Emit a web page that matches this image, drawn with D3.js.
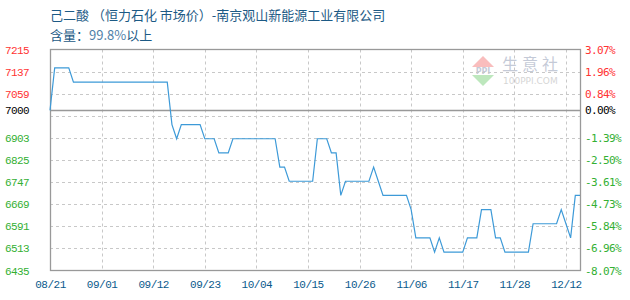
<!DOCTYPE html>
<html>
<head>
<meta charset="utf-8">
<script src="https://cdn.jsdelivr.net/npm/d3@7"></script>
<style>
  body { margin: 0; background: #fff; }
  svg { display: block; }
</style>
</head>
<body>
<svg width="630" height="300"></svg>
<script>
  const dateLabels = ['08/21', '09/01', '09/12', '09/23', '10/04', '10/15', '10/26', '11/06', '11/17', '11/28', '12/12']
  const labelIdx = [0, 11, 22, 33, 44, 55, 66, 77, 88, 99, 110]
  const priceTicks = [7215, 7137, 7059, 6981, 6903, 6825, 6747, 6669, 6591, 6513, 6435]
  const basePrice = 7000

  // one value per day shown
  const prices = [
    7000, 7150, 7150, 7150, 7150, 7100, 7100, 7100, 7100, 7100,
    7100, 7100, 7100, 7100, 7100, 7100, 7100, 7100, 7100, 7100,
    7100, 7100, 7100, 7100, 7100, 7100, 6950, 6900, 6950, 6950,
    6950, 6950, 6950, 6900, 6900, 6900, 6850, 6850, 6850, 6900,
    6900, 6900, 6900, 6900, 6900, 6900, 6900, 6900, 6900, 6800,
    6800, 6750, 6750, 6750, 6750, 6750, 6750, 6900, 6900, 6900,
    6850, 6850, 6700, 6750, 6750, 6750, 6750, 6750, 6750, 6800,
    6750, 6700, 6700, 6700, 6700, 6700, 6700, 6650, 6550, 6550,
    6550, 6550, 6500, 6550, 6500, 6500, 6500, 6500, 6500, 6550,
    6550, 6550, 6650, 6650, 6650, 6550, 6550, 6500, 6500, 6500,
    6500, 6500, 6500, 6600, 6600, 6600, 6600, 6600, 6600, 6650,
    6600, 6550, 6700, 6700
  ]

  const plotL = 50, plotR = 580, plotT = 49.5, plotB = 270.5
  const svg = d3.select('svg')

  const x = d3.scaleLinear().domain([0, prices.length - 1]).range([plotL, plotR])
  const y = d3.scaleLinear().domain([6435, 7215]).range([plotB, plotT])

  const upColor = '#ff3333'
  const downColor = '#33b033'
  function tickColor(v){
    if(v > basePrice) return upColor
    if(v < basePrice) return downColor
    return '#000'
  }

  // title
  svg.append('text')
    .attr('x', 50).attr('y', 20)
    .style('font', '13px "Noto Sans CJK SC", sans-serif')
    .style('fill', '#1c5a85')
    .text('己二酸 （恒力石化 市场价）-南京观山新能源工业有限公司')
  const sub = svg.append('text')
    .attr('x', 50).attr('y', 40)
    .style('font', '13px "Noto Sans CJK SC", sans-serif')
    .style('fill', '#1c5a85')
  sub.append('tspan').text('含量：')
  sub.append('tspan').style('fill', '#4f7fa8').text('99.8%')
  sub.append('tspan').text('以上')

  // watermark
  const wm = svg.append('g').attr('opacity', 0.35)
  wm.append('path')
    .attr('d', 'M483,56 L472,67 L494,67 Z')
    .style('fill', '#ee4444')
  wm.append('path')
    .attr('d', 'M472,75 L494,75 L483,86 Z')
    .style('fill', '#44bb44')
  wm.append('text')
    .attr('x', 483).attr('y', 74).attr('text-anchor', 'middle')
    .style('font', 'bold 8px "DejaVu Sans", sans-serif')
    .style('fill', '#5a6a90')
    .text('PPI')
  wm.append('text')
    .attr('x', 502).attr('y', 70)
    .style('font', '16px "Noto Sans CJK SC", sans-serif')
    .style('letter-spacing', '4px')
    .style('fill', '#5a6a90')
    .text('生意社')
  wm.append('text')
    .attr('x', 503).attr('y', 84)
    .style('font', '9px "DejaVu Sans", sans-serif')
    .style('fill', '#888')
    .text('100PPI.COM')

  // grid
  svg.append('g')
    .selectAll('line')
    .data(priceTicks.slice(1, -1))
    .join('line')
      .attr('x1', plotL).attr('x2', plotR)
      .attr('y1', d => Math.round(y(d)) + 0.5)
      .attr('y2', d => Math.round(y(d)) + 0.5)
      .style('stroke', '#c8c8c8')
      .style('stroke-dasharray', '3,3')
  svg.append('g')
    .selectAll('line')
    .data(labelIdx.slice(1))
    .join('line')
      .attr('x1', d => Math.round(x(d)) + 0.5)
      .attr('x2', d => Math.round(x(d)) + 0.5)
      .attr('y1', plotT).attr('y2', plotB)
      .style('stroke', '#c8c8c8')
      .style('stroke-dasharray', '3,3')

  // frame + base line
  svg.append('rect')
    .attr('x', plotL + 0.5).attr('y', plotT)
    .attr('width', plotR - plotL).attr('height', plotB - plotT)
    .style('fill', 'none')
    .style('stroke', '#999')
    .style('stroke-width', 1.3)
  svg.append('line')
    .attr('x1', plotL).attr('x2', plotR)
    .attr('y1', Math.round(y(basePrice)) + 0.5)
    .attr('y2', Math.round(y(basePrice)) + 0.5)
    .style('stroke', '#999')
    .style('stroke-width', 1.3)

  // left axis
  const leftTicks = priceTicks.filter(d => d !== 6981).concat([basePrice])
  const yAxisL = d3.axisLeft(y).tickValues(leftTicks).tickSize(0).tickPadding(0).tickFormat(d3.format('d'))
  const gl = svg.append('g').attr('transform', 'translate(29,0)').call(yAxisL)
  gl.select('.domain').remove()
  gl.selectAll('text')
    .style('font', '11px "Liberation Mono", monospace')
    .style('letter-spacing', '-0.6px')
    .style('fill', d => tickColor(d))

  // right axis (percent change against base)
  const pctFmt = d => ((d - basePrice) / basePrice * 100).toFixed(2) + '%'
  const yAxisR = d3.axisRight(y).tickValues(leftTicks).tickSize(0).tickPadding(0).tickFormat(pctFmt)
  const gr = svg.append('g').attr('transform', 'translate(585,0)').call(yAxisR)
  gr.select('.domain').remove()
  gr.selectAll('text')
    .style('font', '11px "DejaVu Sans Mono", monospace')
    .style('letter-spacing', '-0.6px')
    .style('fill', d => tickColor(d))

  // bottom axis
  const xAxis = d3.axisBottom(x).tickValues(labelIdx).tickSize(0).tickPadding(0)
    .tickFormat((d, i) => dateLabels[i])
  const gx = svg.append('g').attr('transform', 'translate(0,280)').call(xAxis)
  gx.select('.domain').remove()
  gx.selectAll('text')
    .style('font', '11px "Liberation Mono", monospace')
    .style('letter-spacing', '-0.5px')
    .style('fill', '#0a5a8c')

  // price line
  const line = d3.line()
    .x((d, i) => x(i))
    .y(d => y(d))
  svg.append('path')
    .datum(prices)
    .attr('d', line)
    .style('fill', 'none')
    .style('stroke', '#3d9ad8')
    .style('stroke-width', 1.2)
</script>
</body>
</html>
